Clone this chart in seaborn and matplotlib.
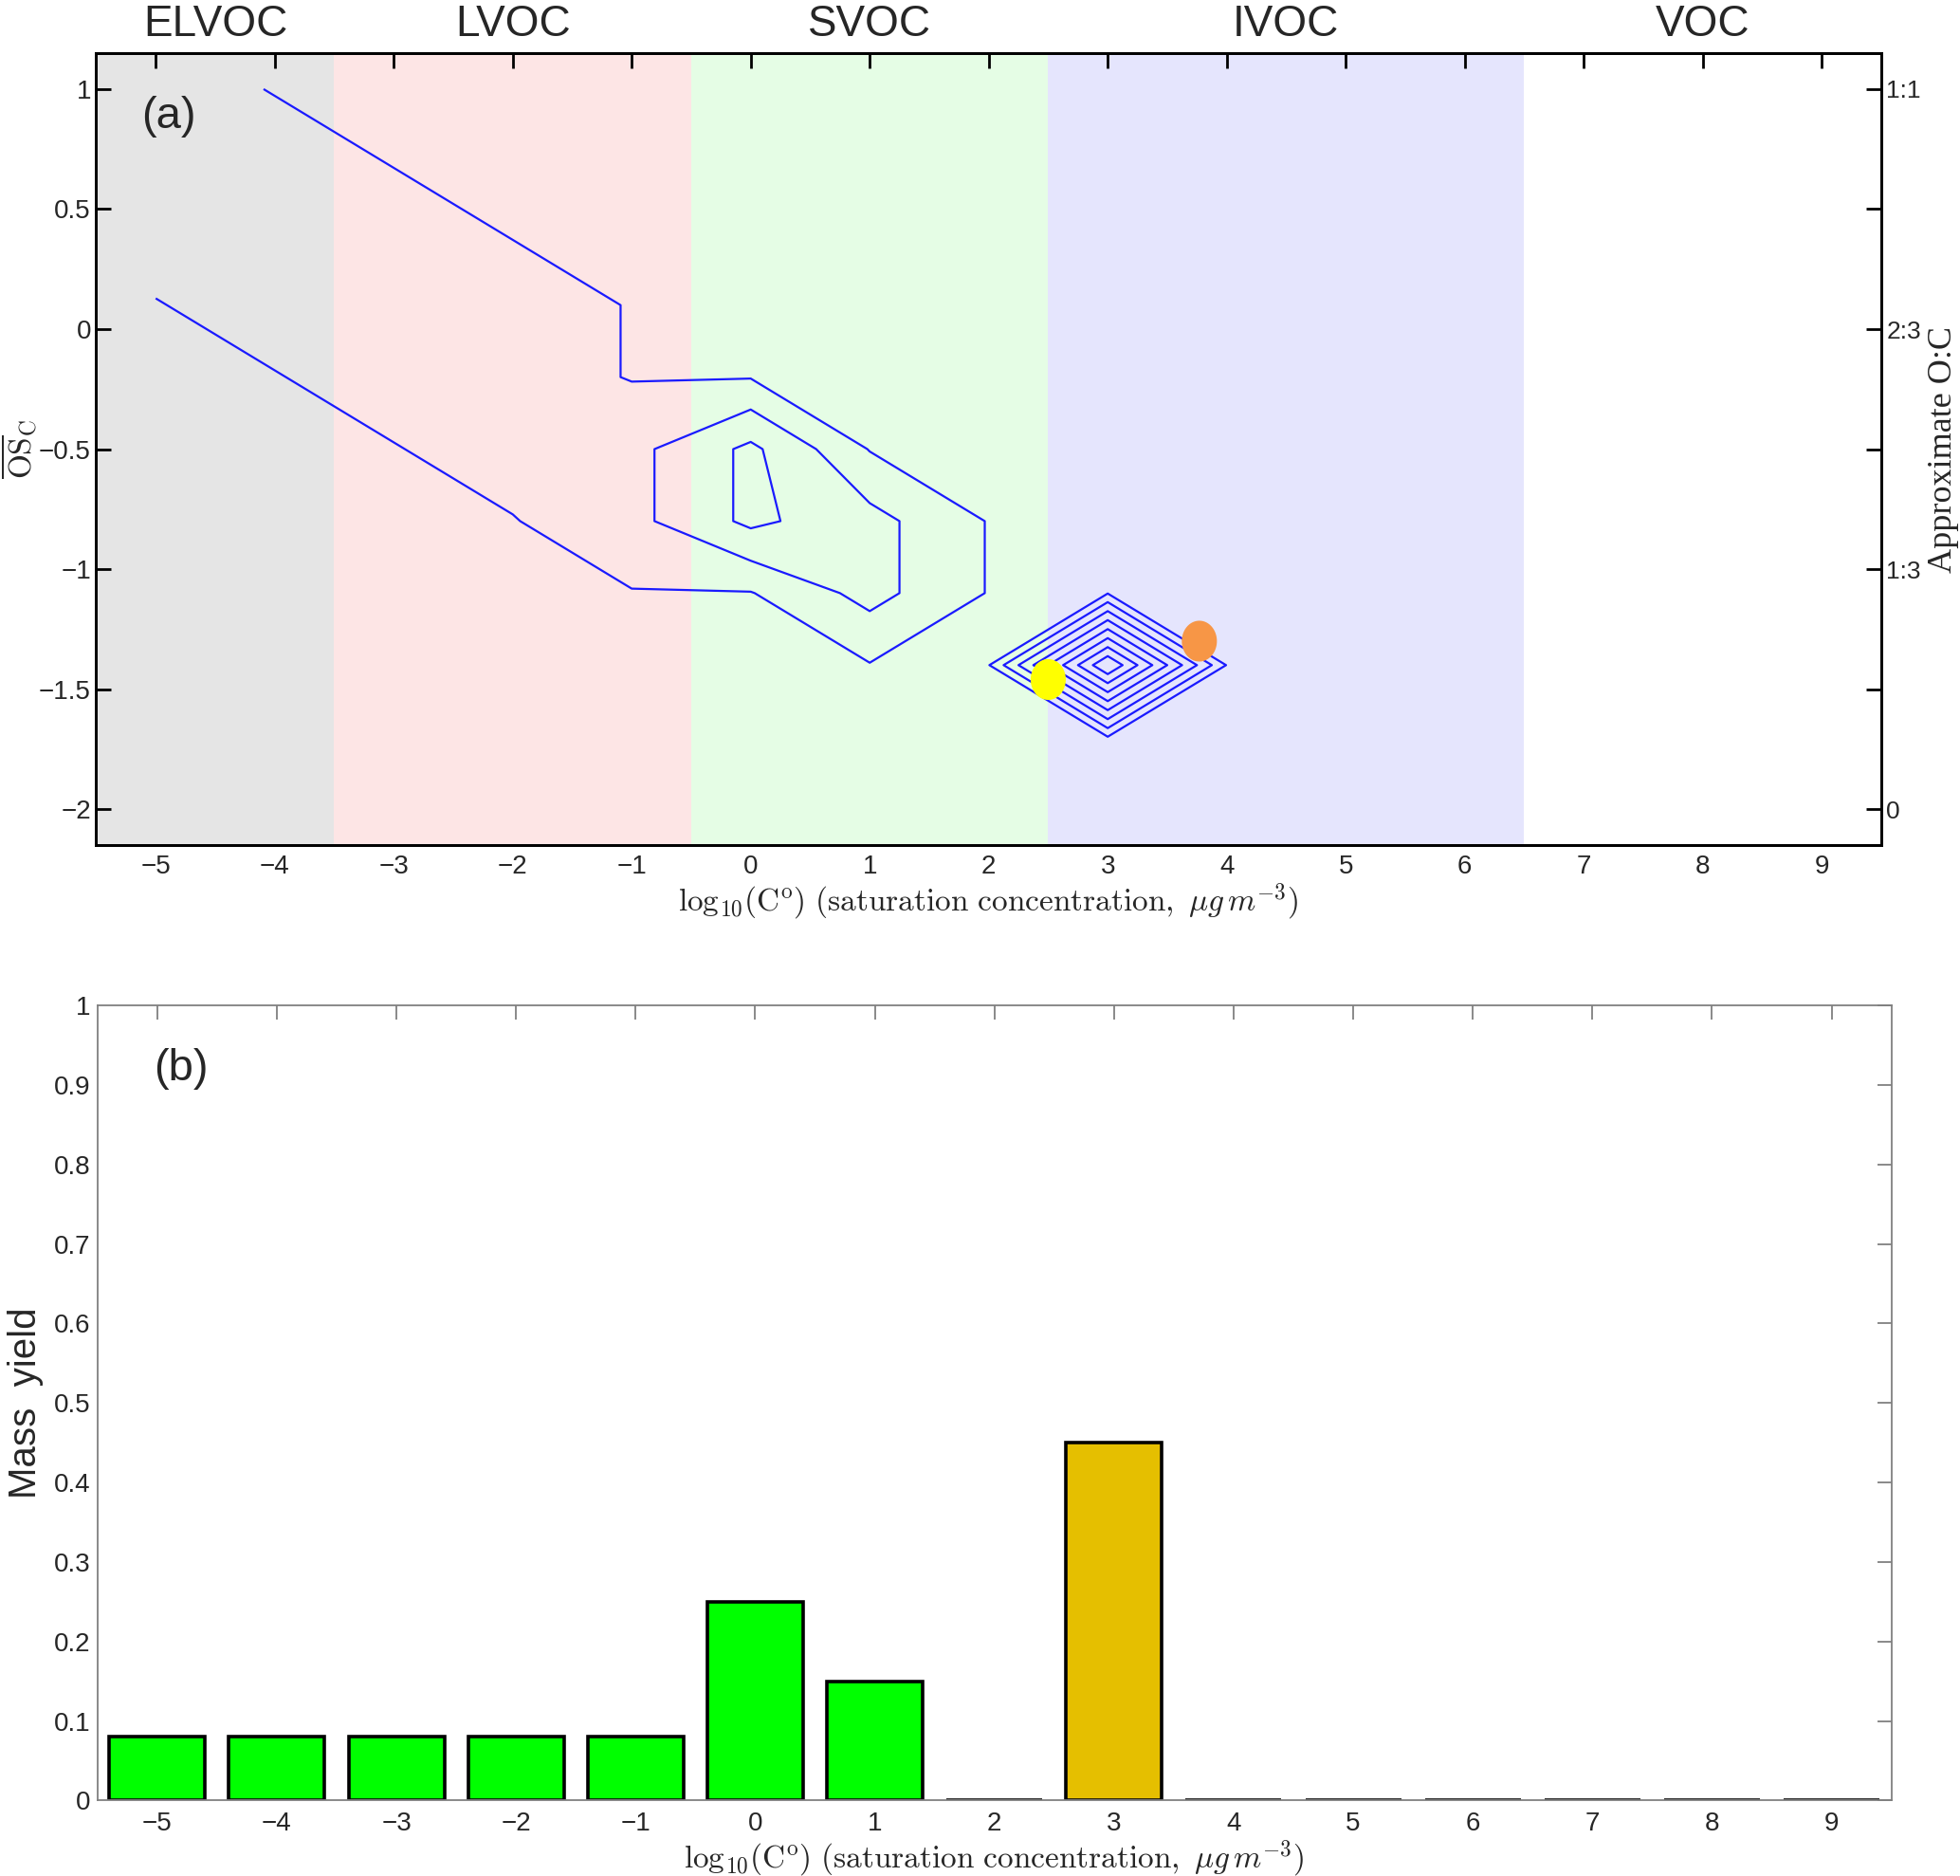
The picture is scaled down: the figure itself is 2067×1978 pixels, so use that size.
import numpy as np
import pandas as pd
import seaborn as sns
import matplotlib
matplotlib.use('Agg')
import matplotlib.pyplot as plt
from matplotlib.path import Path
from matplotlib.transforms import blended_transform_factory

sns.set_theme(style='white')
plt.rcParams['font.family'] = ['Liberation Sans', 'DejaVu Sans']
plt.rcParams['mathtext.fontset'] = 'cm'

# volatility bins, log10(C*) in ug/m3
log_c = [-5, -4, -3, -2, -1, 0, 1, 2, 3, 4, 5, 6, 7, 8, 9]
mass_yield = [0.08, 0.08, 0.08, 0.08, 0.08, 0.25, 0.15, 0.0, 0.45, 0.0, 0.0, 0.0, 0.0, 0.0, 0.0]
group = ['products'] * 8 + ['parent'] + ['products'] * 6

# OSc grid of the 2-D VBS and where each bin puts its mass
osc_grid = [-2.0, -1.7, -1.4, -1.1, -0.8, -0.5, -0.2, 0.1, 0.4, 0.7, 1.0]
osc_occupied = [
    [1.0, 0.7, 0.4], [0.7, 0.4, 0.1], [0.4, 0.1, -0.2], [0.1, -0.2, -0.5],
    [-0.5, -0.8], [-0.5, -0.8], [-0.8, -1.1], [], [-1.4],
    [], [], [], [], [], [],
]
contour_levels = [0.0025, 0.05625, 0.1125, 0.16875, 0.225, 0.28125, 0.3375, 0.39375]

# volatility classes
class_names = ['ELVOC', 'LVOC', 'SVOC', 'IVOC', 'VOC']
class_edges = [-5.5, -3.5, -0.5, 2.5, 6.5, 9.5]

# the two markers
point_log_c = [2.5, 3.77]
point_osc = [-1.46, -1.30]

osc_ticks = [-2, -1.5, -1, -0.5, 0, 0.5, 1]
oc_labels = ['0', '', '1:3', '', '2:3', '', '1:1']
yield_ticks = [0, 0.1, 0.2, 0.3, 0.4, 0.5, 0.6, 0.7, 0.8, 0.9, 1]

class_colors = ['#e5e5e5', '#fde5e5', '#e5fde5', '#e5e5fd', '#ffffff']
bar_palette = {'products': '#00ff00', 'parent': '#e5bf00'}
point_colors = ['#ffff00', '#f79646']


def fmt(v):
    return '{:g}'.format(v).replace('-', '\u2212')


xlab = r'$\mathrm{log_{10}(C^o)\ (saturation\ concentration,}\ \mu g\, m^{-3}\mathrm{)}$'

fig = plt.figure(figsize=(20.67, 19.78), dpi=100)
ax1 = fig.add_axes([0.0491, 0.5495, 0.9107, 0.4222])
ax2 = fig.add_axes([0.0497, 0.0402, 0.9153, 0.4239])

# ---- (a) 2-D VBS
trans = blended_transform_factory(ax1.transData, ax1.transAxes)
for name, lo, hi, col in zip(class_names, class_edges[:-1], class_edges[1:], class_colors):
    ax1.axvspan(lo, hi, color=col, lw=0, zorder=0)
    ax1.text((lo + hi) / 2, 1.022, name, transform=trans, ha='center', va='baseline', fontsize=33)

Z = np.zeros((len(osc_grid), len(log_c)))
for i, (y, occ) in enumerate(zip(mass_yield, osc_occupied)):
    for o in occ:
        j = int(np.argmin(np.abs(np.array(osc_grid) - o)))
        Z[j, i] = y / len(occ)
ax1.contour(log_c, osc_grid, Z, levels=contour_levels, colors='#1a1aff', linewidths=1.6, zorder=2)

t = np.linspace(0, 2 * np.pi, 80)
ell = Path(np.column_stack([0.86 * np.cos(t), np.sin(t)]), closed=True)
ax1.scatter(point_log_c, point_osc, s=961, marker=ell, c=point_colors, linewidths=0, zorder=3)

ax1.set_xlim(-5.5, 9.5)
ax1.set_ylim(-2.15, 1.15)
ax1.set_xticks(log_c, [fmt(v) for v in log_c])
ax1.set_yticks(osc_ticks, [fmt(v) for v in osc_ticks])
ax1.tick_params(axis='both', direction='in', length=11.5, width=2.0, color='black',
                labelsize=20, top=True, right=False)
ax1.tick_params(axis='x', pad=7)
ax1.tick_params(axis='y', pad=4)
for sp in ax1.spines.values():
    sp.set_color('black')
    sp.set_linewidth(2.0)
ax1.set_xlabel(xlab, fontsize=24, labelpad=2)
ax1.set_ylabel(r'$\overline{\mathrm{OS}}_{\mathrm{C}}$', fontsize=24)
ax1.yaxis.set_label_coords(-0.0315, 0.5)
ax1.text(0.0406, 0.92, '(a)', transform=ax1.transAxes, ha='center', va='center', fontsize=34)

ax1r = ax1.twinx()
ax1r.set_ylim(-2.15, 1.15)
ax1r.set_yticks(osc_ticks, oc_labels)
ax1r.tick_params(axis='y', direction='in', length=11.5, width=2.0, color='black', labelsize=19, pad=4)
ax1r.set_ylabel('Approximate O:C', fontsize=26, family=['Liberation Serif', 'DejaVu Serif'], labelpad=5)
for sp in ax1r.spines.values():
    sp.set_color('black')
    sp.set_linewidth(2.0)

# ---- (b) mass yields
df = pd.DataFrame({'log_c': log_c, 'mass_yield': mass_yield, 'group': group})
sns.barplot(data=df, x='log_c', y='mass_yield', hue='group', palette=bar_palette,
            native_scale=True, dodge=False, width=0.8, saturation=1, errorbar=None,
            edgecolor='black', linewidth=2.6, legend=False, ax=ax2)
ax2.set_xlim(-5.5, 9.5)
ax2.set_ylim(0, 1)
ax2.set_xticks(log_c, [fmt(v) for v in log_c])
ax2.set_yticks(yield_ticks, [fmt(v) for v in yield_ticks])
ax2.tick_params(axis='both', direction='in', length=11, width=1.3, color='#808080',
                labelsize=20, top=True, right=True)
ax2.tick_params(axis='x', pad=8)
ax2.tick_params(axis='y', pad=5)
for sp in ax2.spines.values():
    sp.set_color('#808080')
    sp.set_linewidth(1.3)
ax2.set_xlabel(xlab, fontsize=24, labelpad=2)
ax2.set_ylabel('Mass  yield', fontsize=29)
ax2.yaxis.set_label_coords(-0.030, 0.5)
ax2.text(0.0466, 0.92, '(b)', transform=ax2.transAxes, ha='center', va='center', fontsize=34)

fig.savefig('out.png', dpi=100)
